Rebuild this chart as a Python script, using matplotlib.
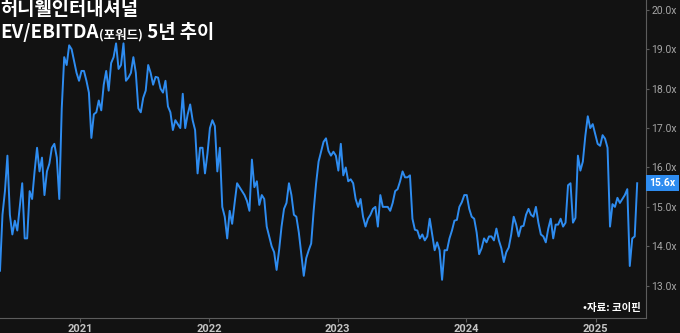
import pandas as pd
import matplotlib
matplotlib.use("Agg")
import matplotlib.pyplot as plt

plt.rcParams['font.family'] = ['Noto Sans CJK KR', 'DejaVu Sans']

# =========================
# DATA
# =========================
title_main = "허니웰인터내셔널"
title_sub = ["EV/EBITDA", "(포워드)", " 5년 추이"]
source = "•자료: 코이핀"

start_date = "2020-05-19"   # weekly observations
ev_ebitda = [
    13.38, 14.8, 15.4, 16.3, 14.8, 14.3, 14.65, 14.4, 15.0, 15.6,
    14.2, 14.2, 15.4, 15.2, 15.9, 16.5, 15.9, 16.25, 15.3, 15.9,
    16.1, 16.5, 16.6, 16.25, 15.2, 17.5, 18.8, 18.6, 19.1, 19.0,
    18.7, 18.4, 18.2, 18.45, 18.45, 18.2, 17.9, 16.75, 17.35, 17.4,
    17.7, 17.45, 18.1, 18.45, 17.95, 18.65, 18.8, 19.15, 18.5, 18.6,
    19.15, 18.2, 18.28, 18.4, 18.8, 18.4, 17.5, 17.4, 17.77, 17.95,
    18.6, 18.4, 18.1, 18.3, 18.28, 18.0, 17.9, 18.2, 17.55, 17.4,
    16.95, 17.2, 17.1, 17.0, 17.87, 17.0, 17.35, 17.6, 17.2, 16.95,
    15.85, 16.5, 16.5, 15.85, 16.35, 17.0, 17.2, 17.05, 15.9, 16.5,
    15.0, 14.75, 14.2, 14.9, 14.57, 15.1, 15.6, 15.5, 15.4, 15.3,
    15.15, 14.9, 16.2, 15.5, 15.65, 15.05, 15.3, 15.2, 14.5, 14.25,
    14.0, 13.85, 13.4, 13.9, 14.5, 14.95, 15.1, 15.6, 15.3, 14.8,
    14.75, 14.35, 13.8, 13.25, 13.7, 13.9, 14.07, 14.9, 15.6, 16.15,
    16.4, 16.65, 16.74, 16.42, 16.3, 16.4, 16.3, 15.92, 16.6, 15.8,
    16.0, 15.65, 15.7, 15.6, 15.2, 15.0, 15.2, 14.75, 14.5, 14.7,
    14.8, 14.95, 15.0, 14.5, 15.3, 15.0, 15.0, 15.0, 14.9, 15.1,
    15.4, 15.45, 15.65, 15.9, 15.75, 15.75, 15.8, 14.7, 14.42, 14.4,
    14.2, 14.3, 14.15, 14.25, 14.7, 14.3, 13.9, 14.1, 13.9, 13.15,
    13.9, 13.9, 14.2, 14.4, 14.65, 14.67, 15.0, 15.12, 15.3, 15.3,
    14.95, 14.75, 14.7, 14.35, 13.8, 13.95, 14.2, 14.1, 14.25, 14.25,
    14.15, 14.45, 14.15, 13.95, 13.6, 13.85, 13.97, 14.3, 14.75, 14.55,
    14.25, 14.5, 14.52, 14.8, 14.95, 14.8, 14.75, 15.0, 14.6, 14.3,
    14.25, 14.1, 14.45, 14.7, 14.2, 14.55, 14.55, 14.7, 14.5, 14.6,
    15.55, 15.6, 14.6, 14.72, 16.3, 15.92, 16.15, 16.8, 17.3, 17.0,
    17.1, 16.85, 16.6, 16.55, 16.82, 16.73, 16.5, 14.5, 15.07, 15.0,
    15.23, 15.1, 15.2, 15.3, 15.45, 13.5, 14.2, 14.25, 15.6,
]
last_value = 15.6
yticks = [13, 14, 15, 16, 17, 18, 19, 20]
years = [2021, 2022, 2023, 2024, 2025]

# =========================
# STYLE
# =========================
BG = "#121212"
BLUE = "#2e8cf0"
AXIS = "#5c5c5c"

dates = pd.date_range(start_date, periods=len(ev_ebitda), freq="7D")

fig = plt.figure(figsize=(6.8, 3.33), dpi=100, facecolor=BG)
ax = fig.add_axes([0.0, 0.045, 0.95, 0.955])
ax.set_facecolor(BG)

ax.plot(dates, ev_ebitda, color=BLUE, lw=1.4, solid_joinstyle="round")

ax.set_xlim(pd.Timestamp("2020-05-19"), pd.Timestamp("2025-05-24"))
ax.set_ylim(12.18, 20.25)

ax.yaxis.tick_right()
ax.set_yticks(yticks)
ax.set_yticklabels([f"{v:.1f}x" for v in yticks], family="Roboto")
ax.set_xticks([pd.Timestamp(f"{y}-01-01") for y in years])
ax.set_xticklabels([str(y) for y in years], family="Roboto", fontweight="bold")

for s in ["top", "left"]:
    ax.spines[s].set_visible(False)
for s in ["right", "bottom"]:
    ax.spines[s].set_color(AXIS)
    ax.spines[s].set_linewidth(0.8)

ax.tick_params(axis="y", colors=AXIS, labelcolor="#a6a6a6", labelsize=7.5,
               length=2, width=0.8, pad=2)
ax.tick_params(axis="x", colors=AXIS, labelcolor="#c4c4c4", labelsize=8,
               length=3, width=0.8, pad=1)

# last value badge
ax.annotate(f"{last_value:.1f}x", xy=(1.0, last_value),
            xycoords=("axes fraction", "data"),
            xytext=(2.5, 0), textcoords="offset points",
            ha="left", va="center", color="white", fontsize=7.5,
            fontweight="bold", family="Roboto",
            bbox=dict(boxstyle="square,pad=0.3", fc=BLUE, ec="none"))

# source
ax.text(0.992, 0.031, source, transform=ax.transAxes, ha="right",
        va="center", color="white", fontsize=7.5, fontweight="bold")

# =========================
# TITLE
# =========================
fig.text(0.001, 1.0, title_main, color="white", fontsize=13.5,
         fontweight="bold", va="top", ha="left")

renderer = fig.canvas.get_renderer()
x0 = 0.001
sizes = [13.5, 9, 13.5]
for txt, sz in zip(title_sub, sizes):
    t = fig.text(x0, 0.885, txt, color="white", fontsize=sz,
                 fontweight="bold", va="baseline", ha="left")
    bb = t.get_window_extent(renderer)
    x0 += bb.width / fig.bbox.width

fig.savefig("out.png", dpi=100, facecolor=BG)
